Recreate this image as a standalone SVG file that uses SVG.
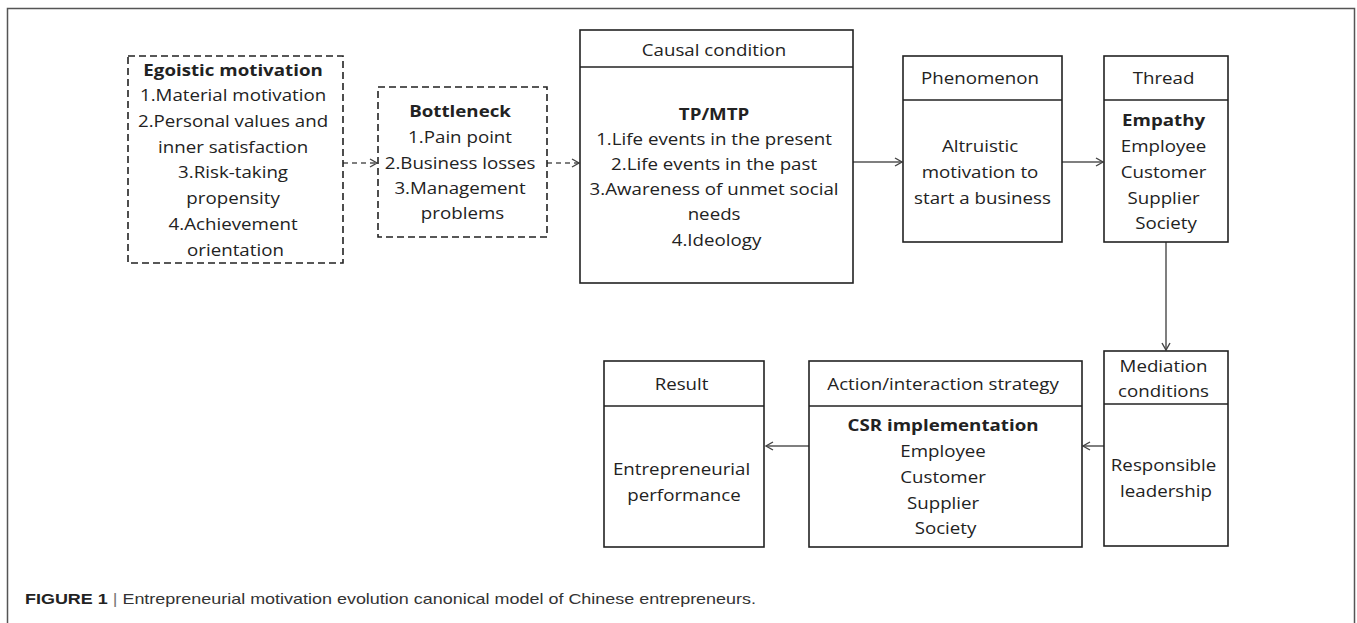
<svg xmlns="http://www.w3.org/2000/svg" width="1357" height="623" viewBox="0 0 1357 623">
<style>
.frame{fill:none;stroke:#555;stroke-width:1.5}
.box{fill:#fff;stroke:#222;stroke-width:1.6}
.dbox{fill:#fff;stroke:#222;stroke-width:1.6;stroke-dasharray:7 4}
.sep{stroke:#222;stroke-width:1.6}
.t{font-family:"Open Sans","Liberation Sans",sans-serif;font-size:16px;fill:#222;text-anchor:middle}
.b{font-weight:bold}
.conn{fill:none;stroke:#555;stroke-width:1.5}
.dash{stroke-dasharray:5 4}
.cap{font-family:"Liberation Sans",Arial,sans-serif;font-size:15px;fill:#333}
</style>
<defs>
<marker id="arr" markerUnits="userSpaceOnUse" markerWidth="12" markerHeight="12" refX="8" refY="5" orient="auto">
<path d="M1,1 L8,5 L1,9" fill="none" stroke="#444" stroke-width="1.4"/>
</marker>
</defs>
<rect class="frame" x="7.5" y="8.5" width="1347" height="640"/>

<g id="connectors">
<line class="conn dash" x1="343" y1="163" x2="377" y2="163" marker-end="url(#arr)"/>
<line class="conn dash" x1="547" y1="163" x2="579" y2="163" marker-end="url(#arr)"/>
<line class="conn" x1="853" y1="162" x2="902" y2="162" marker-end="url(#arr)"/>
<line class="conn" x1="1062" y1="162" x2="1103" y2="162" marker-end="url(#arr)"/>
<line class="conn" x1="1166" y1="242" x2="1166" y2="350" marker-end="url(#arr)"/>
<line class="conn" x1="1104" y1="446" x2="1083" y2="446" marker-end="url(#arr)"/>
<line class="conn" x1="809" y1="446" x2="766" y2="446" marker-end="url(#arr)"/>
</g>

<g id="egoistic">
<rect class="dbox" x="128" y="56" width="215" height="207"/>
<text class="t" transform="translate(235.5 0) scale(1.17 1)">
<tspan class="b" x="0" y="76">Egoistic motivation</tspan>
<tspan x="0" y="101">1.Material motivation</tspan>
<tspan x="0" y="127">2.Personal values and</tspan>
<tspan x="0" y="153">inner satisfaction</tspan>
<tspan x="0" y="178">3.Risk-taking</tspan>
<tspan x="0" y="204">propensity</tspan>
<tspan x="0" y="230">4.Achievement</tspan>
<tspan x="0" y="256">orientation</tspan>
</text>
</g>

<g id="bottleneck">
<rect class="dbox" x="378" y="87" width="169" height="150"/>
<text class="t" transform="translate(462.5 0) scale(1.17 1)">
<tspan class="b" x="0" y="117">Bottleneck</tspan>
<tspan x="0" y="143">1.Pain point</tspan>
<tspan x="0" y="169">2.Business losses</tspan>
<tspan x="0" y="194">3.Management</tspan>
<tspan x="0" y="219">problems</tspan>
</text>
</g>

<g id="causal">
<rect class="box" x="580" y="30" width="273" height="253"/>
<line class="sep" x1="580" y1="67" x2="853" y2="67"/>
<text class="t" transform="translate(716.5 0) scale(1.17 1)">
<tspan x="0" y="56">Causal condition</tspan>
<tspan class="b" x="0" y="120">TP/MTP</tspan>
<tspan x="0" y="145">1.Life events in the present</tspan>
<tspan x="0" y="170">2.Life events in the past</tspan>
<tspan x="0" y="195">3.Awareness of unmet social</tspan>
<tspan x="0" y="220">needs</tspan>
<tspan x="0" y="246">4.Ideology</tspan>
</text>
</g>

<g id="phenomenon">
<rect class="box" x="903" y="56" width="159" height="186"/>
<line class="sep" x1="903" y1="100" x2="1062" y2="100"/>
<text class="t" transform="translate(982.5 0) scale(1.17 1)">
<tspan x="0" y="84">Phenomenon</tspan>
<tspan x="0" y="152">Altruistic</tspan>
<tspan x="0" y="178">motivation to</tspan>
<tspan x="0" y="204">start a business</tspan>
</text>
</g>

<g id="thread">
<rect class="box" x="1104" y="56" width="124" height="186"/>
<line class="sep" x1="1104" y1="100" x2="1228" y2="100"/>
<text class="t" transform="translate(1166 0) scale(1.17 1)">
<tspan x="0" y="84">Thread</tspan>
<tspan class="b" x="0" y="126">Empathy</tspan>
<tspan x="0" y="152">Employee</tspan>
<tspan x="0" y="178">Customer</tspan>
<tspan x="0" y="204">Supplier</tspan>
<tspan x="0" y="229">Society</tspan>
</text>
</g>

<g id="mediation">
<rect class="box" x="1104" y="351" width="124" height="195"/>
<line class="sep" x1="1104" y1="404" x2="1228" y2="404"/>
<text class="t" transform="translate(1166 0) scale(1.17 1)">
<tspan x="0" y="372">Mediation</tspan>
<tspan x="0" y="397">conditions</tspan>
<tspan x="0" y="471">Responsible</tspan>
<tspan x="0" y="497">leadership</tspan>
</text>
</g>

<g id="action">
<rect class="box" x="809" y="361" width="273" height="186"/>
<line class="sep" x1="809" y1="406" x2="1082" y2="406"/>
<text class="t" transform="translate(945.5 0) scale(1.17 1)">
<tspan x="0" y="390">Action/interaction strategy</tspan>
<tspan class="b" x="0" y="431">CSR implementation</tspan>
<tspan x="0" y="457">Employee</tspan>
<tspan x="0" y="483">Customer</tspan>
<tspan x="0" y="509">Supplier</tspan>
<tspan x="0" y="534">Society</tspan>
</text>
</g>

<g id="result">
<rect class="box" x="604" y="361" width="160" height="186"/>
<line class="sep" x1="604" y1="406" x2="764" y2="406"/>
<text class="t" transform="translate(684 0) scale(1.17 1)">
<tspan x="0" y="390">Result</tspan>
<tspan x="0" y="475">Entrepreneurial</tspan>
<tspan x="0" y="501">performance</tspan>
</text>
</g>

<text class="cap" x="25" y="604" textLength="731" lengthAdjust="spacingAndGlyphs"><tspan font-weight="bold" fill="#222">FIGURE 1</tspan><tspan fill="#777"> | </tspan>Entrepreneurial motivation evolution canonical model of Chinese entrepreneurs.</text>
</svg>
